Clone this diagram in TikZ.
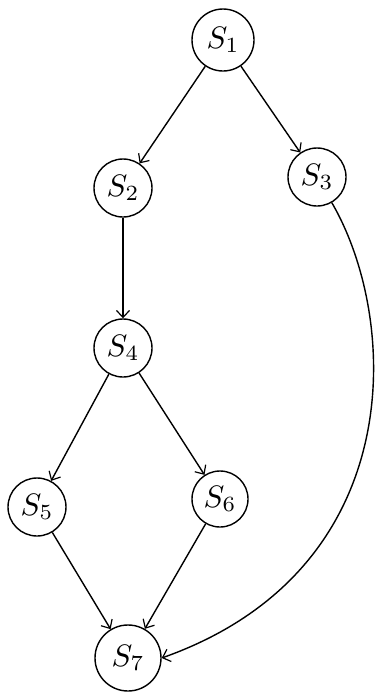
\documentclass[tikz,border=0pt]{standalone}
\usepackage{graphicx}
\usetikzlibrary{arrows.meta}
\newcommand{\stlabel}[1]{\scalebox{3.1}{$S_{#1}$}}
\begin{document}
\begin{tikzpicture}[x=1pt,y=-1pt,
  state/.style={draw, circle, line width=1.4pt, minimum size=58pt, inner sep=0pt},
  edge/.style={draw, line width=1.4pt, -{Straight Barb[length=7pt,width=13pt,line width=1.2pt]}}]
\useasboundingbox (0,0) rectangle (378,694);
\node[state, minimum size=62pt] (s1) at (223,40) {\stlabel{1}};
\node[state] (s2) at (123,188) {\stlabel{2}};
\node[state] (s3) at (317,177) {\stlabel{3}};
\node[state] (s4) at (123,348) {\stlabel{4}};
\node[state] (s5) at (37,507) {\stlabel{5}};
\node[state, minimum size=56pt] (s6) at (220,499) {\stlabel{6}};
\node[state, minimum size=66pt] (s7) at (128,658) {\stlabel{7}};
\draw[edge] (s1) -- (s2);
\draw[edge] (s1) -- (s3);
\draw[edge] (s2) -- (s4);
\draw[edge] (s4) -- (s5);
\draw[edge] (s4) -- (s6);
\draw[edge] (s5) -- (s7);
\draw[edge] (s6) -- (s7);
\draw[edge] (s3.-60) .. controls (400,320) and (410,570) .. (s7.east);
\end{tikzpicture}
\end{document}
